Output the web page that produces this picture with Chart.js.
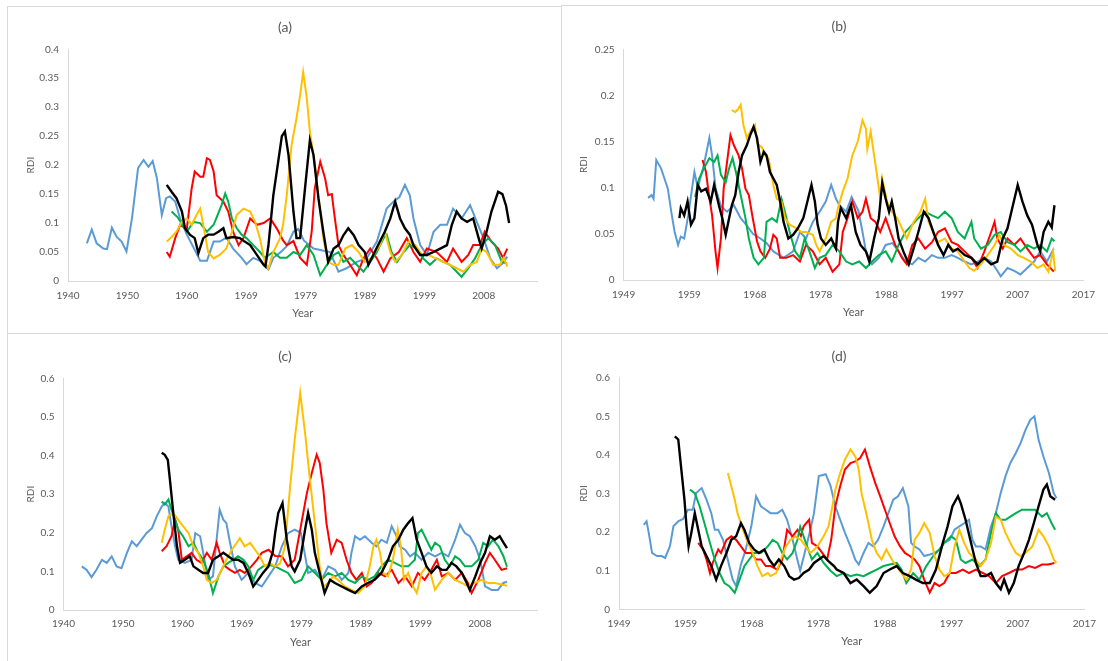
<!DOCTYPE html>
<html lang="pt-BR">
<head>
<meta charset="utf-8">
<title>RDI × Ano</title>
<script src="https://cdn.jsdelivr.net/npm/chart.js@4.4.1/dist/chart.umd.min.js"></script>
<style>
    body { margin: 0; width: 1108px; height: 661px; background: #fff; position: relative; overflow: hidden; }
    .painel { position: absolute; border-left: 1px solid #d9d9d9; border-top: 1px solid #d9d9d9; box-sizing: border-box; }
    canvas { position: absolute; }
</style>
</head>
<body>
<div class="painel" style="left:7px;top:6px;width:554px;height:327px"></div>
<div class="painel" style="left:561px;top:5px;width:547px;height:328px"></div>
<div class="painel" style="left:7px;top:333px;width:554px;height:328px"></div>
<div class="painel" style="left:561px;top:333px;width:547px;height:328px"></div>
<canvas id="graficoA" width="553" height="326" style="left:8px;top:7px"></canvas>
<canvas id="graficoB" width="542" height="327" style="left:562px;top:6px"></canvas>
<canvas id="graficoC" width="553" height="327" style="left:8px;top:334px"></canvas>
<canvas id="graficoD" width="542" height="327" style="left:562px;top:334px"></canvas>
<script>
// ============================================================
// 📈 RDI × ANO – QUATRO PAINÉIS (a)–(d)
// ============================================================

// rótulos do eixo X (eixo de datas, passo de ~9,7 anos)
const anosAC = ["1940", "1950", "1960", "1969", "1979", "1989", "1999", "2008"];
const anosBD = ["1949", "1959", "1968", "1978", "1988", "1997", "2007", "2017"];

// ---------- painel (a) ----------
const azulA = [[1943.6,0.065],[1944.4,0.089],[1945.2,0.065],[1946.3,0.056],[1946.9,0.055],[1947.7,0.092],[1948.5,0.076],[1949.3,0.068],[1950.1,0.051],[1951.0,0.108],[1952.0,0.195],[1952.9,0.209],[1953.7,0.197],[1954.4,0.207],[1955.1,0.177],[1955.6,0.137],[1955.9,0.114],[1956.6,0.143],[1957.2,0.146],[1958.1,0.137],[1958.9,0.108],[1960.0,0.08],[1961.0,0.06],[1962.2,0.035],[1963.3,0.035],[1964.4,0.068],[1965.4,0.068],[1966.5,0.075],[1967.6,0.056],[1969.0,0.04],[1969.8,0.029],[1970.9,0.04],[1972.0,0.035],[1973.4,0.02],[1974.2,0.04],[1975.3,0.049],[1976.4,0.06],[1977.5,0.085],[1978.3,0.09],[1979.2,0.07],[1980.8,0.056],[1982.1,0.053],[1983.5,0.05],[1984.9,0.016],[1986.2,0.022],[1987.9,0.033],[1989.5,0.039],[1991.2,0.068],[1992.8,0.125],[1993.9,0.137],[1994.9,0.145],[1995.8,0.166],[1996.6,0.148],[1997.2,0.108],[1998.3,0.062],[1999.4,0.045],[2000.5,0.085],[2001.6,0.097],[2002.7,0.097],[2003.7,0.125],[2005.1,0.108],[2006.5,0.131],[2007.6,0.102],[2008.7,0.074],[2009.8,0.039],[2010.9,0.022],[2011.8,0.03],[2012.6,0.042]];
const vermelhoA = [[1956.7,0.05],[1957.2,0.042],[1958.1,0.074],[1958.9,0.097],[1960.0,0.09],[1960.8,0.16],[1961.3,0.189],[1962.2,0.18],[1962.7,0.18],[1963.3,0.212],[1963.8,0.209],[1964.4,0.189],[1964.9,0.148],[1966.0,0.137],[1966.8,0.12],[1967.6,0.085],[1968.5,0.062],[1969.3,0.074],[1970.4,0.108],[1971.5,0.097],[1972.6,0.1],[1973.7,0.108],[1974.8,0.09],[1975.8,0.07],[1976.4,0.062],[1977.5,0.069],[1978.6,0.04],[1979.7,0.028],[1980.5,0.085],[1981.0,0.16],[1981.9,0.206],[1982.7,0.177],[1983.2,0.148],[1983.8,0.15],[1984.3,0.108],[1984.9,0.062],[1985.7,0.045],[1986.8,0.028],[1987.9,0.01],[1989.0,0.039],[1990.1,0.056],[1991.2,0.039],[1992.3,0.016],[1993.4,0.039],[1994.8,0.05],[1996.1,0.074],[1997.2,0.05],[1998.3,0.033],[1999.4,0.056],[2001.0,0.05],[2002.7,0.033],[2003.7,0.056],[2005.1,0.033],[2006.2,0.045],[2007.0,0.062],[2008.1,0.062],[2008.9,0.085],[2010.0,0.068],[2011.1,0.056],[2011.9,0.04],[2012.6,0.056]];
const verdeA = [[1957.5,0.12],[1958.5,0.11],[1960.0,0.085],[1961.1,0.102],[1962.2,0.1],[1963.3,0.085],[1964.4,0.097],[1964.9,0.11],[1965.7,0.131],[1966.3,0.151],[1966.8,0.137],[1967.4,0.108],[1968.2,0.091],[1969.0,0.08],[1969.8,0.074],[1970.9,0.062],[1972.0,0.05],[1972.8,0.04],[1974.2,0.05],[1975.3,0.04],[1976.4,0.04],[1977.5,0.05],[1978.6,0.045],[1979.7,0.062],[1980.8,0.045],[1981.9,0.01],[1983.0,0.028],[1984.1,0.045],[1984.9,0.05],[1985.7,0.033],[1986.8,0.04],[1987.9,0.028],[1989.0,0.016],[1990.1,0.033],[1991.2,0.05],[1992.3,0.074],[1992.8,0.08],[1993.6,0.05],[1994.5,0.033],[1995.6,0.05],[1996.6,0.062],[1997.7,0.056],[1998.8,0.039],[1999.9,0.028],[2001.0,0.039],[2002.1,0.033],[2003.2,0.028],[2004.3,0.016],[2005.1,0.007],[2006.2,0.022],[2007.3,0.039],[2008.4,0.062],[2009.5,0.074],[2010.6,0.062],[2011.7,0.033],[2012.6,0.03]];
const amareloA = [[1956.7,0.068],[1957.5,0.076],[1958.3,0.085],[1959.2,0.102],[1960.0,0.108],[1960.8,0.097],[1961.6,0.114],[1962.2,0.125],[1962.7,0.097],[1963.5,0.05],[1964.4,0.039],[1965.4,0.045],[1966.5,0.056],[1967.4,0.085],[1968.2,0.114],[1969.3,0.125],[1970.4,0.12],[1971.2,0.102],[1972.0,0.074],[1972.8,0.033],[1973.4,0.022],[1974.2,0.05],[1975.3,0.074],[1975.8,0.097],[1976.4,0.148],[1977.2,0.235],[1978.0,0.281],[1978.6,0.321],[1979.1,0.361],[1979.7,0.315],[1980.2,0.258],[1980.8,0.217],[1981.6,0.148],[1982.4,0.074],[1983.2,0.033],[1984.1,0.028],[1984.9,0.028],[1986.0,0.056],[1987.1,0.062],[1988.2,0.05],[1989.2,0.033],[1990.3,0.04],[1991.7,0.062],[1992.5,0.085],[1993.4,0.05],[1994.2,0.033],[1995.3,0.045],[1996.4,0.068],[1997.5,0.062],[1998.6,0.045],[1999.6,0.045],[2000.7,0.04],[2002.1,0.033],[2003.2,0.028],[2004.3,0.022],[2005.4,0.016],[2006.5,0.028],[2007.6,0.033],[2008.4,0.056],[2009.2,0.05],[2010.3,0.028],[2011.4,0.028],[2012.0,0.04],[2012.6,0.025]];
const pretoA = [[1956.7,0.166],[1957.5,0.154],[1958.3,0.143],[1959.2,0.12],[1959.7,0.091],[1960.5,0.08],[1961.3,0.074],[1961.9,0.048],[1962.7,0.074],[1963.5,0.08],[1964.4,0.08],[1965.2,0.085],[1966.0,0.091],[1966.5,0.074],[1967.6,0.076],[1968.7,0.074],[1969.5,0.068],[1970.4,0.062],[1971.5,0.045],[1972.6,0.028],[1972.9,0.025],[1973.4,0.062],[1974.2,0.148],[1975.0,0.206],[1975.6,0.25],[1976.1,0.258],[1976.7,0.217],[1977.5,0.12],[1978.0,0.074],[1978.6,0.074],[1979.4,0.16],[1980.2,0.243],[1980.8,0.217],[1981.6,0.143],[1982.4,0.085],[1983.2,0.033],[1984.1,0.056],[1984.9,0.062],[1985.7,0.079],[1986.5,0.091],[1987.4,0.079],[1988.2,0.062],[1989.2,0.05],[1989.8,0.028],[1990.6,0.045],[1991.4,0.062],[1992.5,0.085],[1993.4,0.108],[1994.2,0.137],[1995.0,0.108],[1995.8,0.091],[1996.6,0.08],[1997.2,0.062],[1998.3,0.045],[1999.4,0.045],[2000.5,0.05],[2001.6,0.056],[2002.7,0.062],[2003.5,0.097],[2004.3,0.12],[2005.1,0.108],[2006.0,0.102],[2007.0,0.108],[2007.9,0.074],[2008.4,0.056],[2009.2,0.085],[2010.0,0.12],[2011.1,0.154],[2011.8,0.15],[2012.4,0.13],[2012.9,0.1]];

// ---------- painel (b) ----------
const azulB = [[1953.1,0.089],[1953.6,0.092],[1953.9,0.088],[1954.3,0.13],[1955.0,0.121],[1955.5,0.11],[1956.0,0.099],[1956.5,0.074],[1957.0,0.052],[1957.5,0.038],[1957.9,0.047],[1958.4,0.045],[1959.0,0.07],[1959.9,0.117],[1960.4,0.1],[1961.3,0.125],[1962.1,0.154],[1962.5,0.135],[1963.0,0.1],[1963.8,0.08],[1964.7,0.074],[1965.7,0.081],[1966.7,0.067],[1967.5,0.06],[1968.5,0.05],[1969.6,0.045],[1970.5,0.04],[1971.5,0.031],[1973.0,0.024],[1974.4,0.031],[1975.4,0.052],[1976.3,0.045],[1977.3,0.063],[1978.3,0.074],[1979.2,0.085],[1980.0,0.103],[1980.7,0.088],[1981.2,0.081],[1982.2,0.074],[1983.0,0.09],[1984.0,0.075],[1984.6,0.052],[1985.1,0.031],[1986.0,0.017],[1987.0,0.024],[1988.0,0.038],[1989.0,0.04],[1989.9,0.031],[1990.9,0.02],[1991.9,0.017],[1992.8,0.024],[1993.8,0.02],[1994.8,0.027],[1995.7,0.024],[1996.7,0.024],[1997.7,0.027],[1998.6,0.024],[1999.6,0.02],[2000.6,0.017],[2001.5,0.02],[2002.5,0.024],[2003.5,0.02],[2004.4,0.01],[2004.9,0.004],[2005.9,0.013],[2006.9,0.01],[2007.8,0.006],[2008.8,0.013],[2009.8,0.02],[2010.7,0.031],[2011.7,0.02],[2012.7,0.034]];
const vermelhoB = [[1961.1,0.13],[1961.6,0.117],[1962.1,0.089],[1962.5,0.07],[1963.0,0.031],[1963.3,0.013],[1963.8,0.045],[1964.2,0.099],[1964.7,0.128],[1965.2,0.157],[1965.7,0.146],[1966.4,0.135],[1966.9,0.121],[1967.4,0.099],[1967.9,0.092],[1968.4,0.07],[1969.1,0.042],[1969.6,0.031],[1970.3,0.024],[1971.0,0.034],[1971.5,0.049],[1972.0,0.045],[1972.5,0.024],[1973.4,0.024],[1974.4,0.027],[1975.4,0.02],[1976.3,0.038],[1977.3,0.031],[1978.3,0.017],[1979.2,0.024],[1980.2,0.009],[1981.2,0.017],[1981.7,0.052],[1982.4,0.067],[1983.1,0.085],[1983.9,0.067],[1984.6,0.074],[1985.1,0.088],[1985.8,0.067],[1986.5,0.063],[1987.2,0.052],[1988.0,0.067],[1988.7,0.052],[1989.4,0.038],[1990.4,0.024],[1991.1,0.017],[1991.9,0.038],[1992.8,0.045],[1993.8,0.034],[1994.8,0.041],[1995.7,0.052],[1996.7,0.056],[1997.7,0.041],[1998.6,0.038],[1999.6,0.031],[2000.6,0.024],[2001.5,0.013],[2002.5,0.031],[2003.5,0.052],[2004.0,0.063],[2004.4,0.045],[2005.2,0.034],[2005.9,0.045],[2006.9,0.038],[2007.8,0.045],[2008.8,0.034],[2009.8,0.024],[2010.7,0.027],[2011.7,0.017],[2012.7,0.009]];
const verdeB = [[1960.0,0.09],[1960.6,0.11],[1961.3,0.121],[1962.1,0.132],[1962.8,0.128],[1963.3,0.135],[1963.8,0.114],[1964.5,0.106],[1965.0,0.121],[1965.5,0.132],[1966.0,0.117],[1966.4,0.103],[1966.9,0.085],[1967.4,0.067],[1967.9,0.045],[1968.6,0.024],[1969.3,0.017],[1970.1,0.024],[1970.5,0.063],[1971.3,0.067],[1972.0,0.063],[1972.7,0.088],[1973.2,0.074],[1973.9,0.052],[1974.7,0.031],[1975.4,0.024],[1976.1,0.045],[1976.8,0.031],[1977.6,0.013],[1978.3,0.024],[1979.2,0.027],[1980.2,0.038],[1981.2,0.031],[1982.2,0.02],[1983.1,0.017],[1984.1,0.02],[1985.1,0.013],[1986.0,0.02],[1987.0,0.027],[1988.0,0.031],[1988.9,0.02],[1989.9,0.038],[1990.9,0.052],[1991.9,0.06],[1992.8,0.067],[1993.8,0.074],[1994.8,0.07],[1995.7,0.067],[1996.7,0.074],[1997.7,0.067],[1998.6,0.052],[1999.6,0.045],[2000.6,0.063],[2001.0,0.045],[2002.0,0.034],[2003.0,0.038],[2004.0,0.049],[2004.9,0.052],[2005.9,0.041],[2006.9,0.038],[2007.8,0.031],[2008.8,0.038],[2009.8,0.034],[2010.7,0.038],[2011.7,0.031],[2012.4,0.045],[2012.8,0.042]];
const amareloB = [[1965.4,0.184],[1965.9,0.182],[1966.3,0.185],[1966.7,0.19],[1967.1,0.168],[1967.6,0.154],[1968.1,0.161],[1968.8,0.168],[1969.1,0.148],[1969.8,0.144],[1970.3,0.135],[1970.8,0.132],[1971.5,0.103],[1972.0,0.088],[1972.7,0.085],[1973.2,0.067],[1973.9,0.06],[1974.9,0.056],[1975.6,0.052],[1976.3,0.052],[1977.3,0.049],[1977.8,0.038],[1978.3,0.031],[1979.2,0.045],[1980.0,0.063],[1980.7,0.067],[1981.0,0.078],[1981.7,0.096],[1982.4,0.11],[1983.1,0.135],[1983.9,0.15],[1984.6,0.173],[1985.1,0.164],[1985.3,0.142],[1985.8,0.161],[1986.3,0.135],[1986.8,0.11],[1987.2,0.088],[1987.5,0.11],[1988.2,0.085],[1988.9,0.074],[1989.7,0.067],[1990.4,0.056],[1991.1,0.045],[1992.1,0.063],[1993.1,0.074],[1993.8,0.088],[1994.3,0.063],[1995.0,0.052],[1995.7,0.041],[1996.7,0.045],[1997.7,0.034],[1998.6,0.031],[1999.6,0.02],[2000.3,0.013],[2001.0,0.01],[2002.0,0.017],[2003.0,0.027],[2004.0,0.038],[2004.7,0.049],[2005.4,0.038],[2006.4,0.034],[2007.4,0.027],[2008.3,0.024],[2009.3,0.02],[2010.3,0.013],[2011.2,0.017],[2011.9,0.009],[2012.6,0.031],[2012.9,0.01]];
const pretoB = [[1957.7,0.067],[1957.9,0.078],[1958.4,0.07],[1958.9,0.085],[1959.4,0.06],[1959.9,0.067],[1960.4,0.103],[1960.9,0.096],[1961.6,0.099],[1962.3,0.085],[1962.8,0.103],[1963.5,0.081],[1964.0,0.067],[1964.5,0.049],[1965.0,0.067],[1965.4,0.081],[1965.9,0.092],[1966.4,0.117],[1966.9,0.135],[1967.6,0.146],[1968.1,0.157],[1968.6,0.166],[1969.1,0.154],[1969.6,0.128],[1970.1,0.139],[1970.5,0.135],[1971.0,0.117],[1971.5,0.11],[1972.0,0.103],[1972.5,0.085],[1973.0,0.063],[1973.7,0.045],[1974.4,0.049],[1975.1,0.056],[1975.9,0.067],[1976.6,0.088],[1977.1,0.103],[1977.6,0.085],[1978.0,0.06],[1978.5,0.045],[1979.2,0.038],[1980.0,0.045],[1980.7,0.034],[1981.0,0.063],[1981.4,0.078],[1982.2,0.067],[1982.9,0.081],[1983.6,0.052],[1984.3,0.038],[1985.1,0.031],[1985.6,0.02],[1986.3,0.045],[1987.0,0.067],[1987.5,0.105],[1988.0,0.088],[1988.5,0.074],[1988.9,0.085],[1989.4,0.067],[1989.9,0.045],[1990.6,0.031],[1991.4,0.017],[1992.1,0.034],[1992.8,0.052],[1993.6,0.074],[1994.3,0.067],[1995.0,0.052],[1995.7,0.038],[1996.5,0.027],[1997.2,0.038],[1997.9,0.031],[1998.6,0.034],[1999.6,0.027],[2000.6,0.024],[2001.5,0.017],[2002.5,0.024],[2003.5,0.017],[2004.4,0.02],[2005.2,0.045],[2005.9,0.056],[2006.6,0.078],[2007.4,0.103],[2008.1,0.085],[2008.8,0.07],[2009.5,0.06],[2010.3,0.038],[2010.7,0.031],[2011.2,0.052],[2011.9,0.063],[2012.4,0.057],[2012.8,0.081]];

// ---------- painel (c) ----------
const azulC = [[1943.5,0.113],[1944.3,0.104],[1945.1,0.085],[1945.9,0.104],[1946.8,0.13],[1947.6,0.122],[1948.4,0.139],[1949.2,0.113],[1950.0,0.108],[1950.9,0.148],[1951.7,0.178],[1952.5,0.165],[1953.3,0.182],[1954.1,0.199],[1955.0,0.212],[1955.8,0.243],[1956.6,0.268],[1957.1,0.277],[1957.7,0.268],[1958.2,0.217],[1958.8,0.165],[1959.3,0.13],[1960.4,0.122],[1961.5,0.13],[1962.1,0.199],[1962.9,0.191],[1963.4,0.148],[1964.2,0.078],[1965.0,0.087],[1965.6,0.182],[1966.1,0.26],[1966.7,0.234],[1967.2,0.225],[1967.8,0.174],[1968.6,0.113],[1969.7,0.078],[1970.8,0.096],[1971.9,0.07],[1973.0,0.061],[1974.1,0.087],[1975.2,0.113],[1976.3,0.165],[1977.3,0.199],[1978.4,0.208],[1979.4,0.2],[1980.0,0.15],[1980.6,0.096],[1981.7,0.104],[1982.8,0.078],[1983.9,0.113],[1985.0,0.104],[1986.1,0.078],[1987.2,0.096],[1987.7,0.148],[1988.3,0.191],[1989.1,0.182],[1989.9,0.191],[1991.0,0.174],[1991.8,0.165],[1992.6,0.182],[1993.5,0.174],[1994.3,0.217],[1995.1,0.191],[1995.6,0.165],[1996.5,0.156],[1997.3,0.139],[1998.1,0.148],[1999.2,0.13],[2000.3,0.148],[2001.4,0.139],[2002.5,0.148],[2003.6,0.139],[2004.7,0.182],[2005.5,0.221],[2006.3,0.199],[2007.1,0.191],[2008.0,0.165],[2008.8,0.13],[2009.6,0.061],[2010.7,0.052],[2011.7,0.052],[2012.6,0.07],[2013.2,0.073]];
const vermelhoC = [[1956.6,0.152],[1957.4,0.165],[1958.2,0.191],[1958.8,0.234],[1959.3,0.208],[1959.9,0.13],[1960.7,0.139],[1961.5,0.148],[1962.3,0.13],[1963.1,0.122],[1964.0,0.148],[1964.8,0.13],[1965.6,0.174],[1966.1,0.148],[1967.0,0.113],[1967.8,0.104],[1968.6,0.096],[1969.4,0.104],[1970.2,0.096],[1971.3,0.113],[1972.2,0.13],[1973.0,0.148],[1974.1,0.156],[1975.2,0.14],[1976.3,0.139],[1977.3,0.113],[1978.4,0.13],[1979.5,0.225],[1980.4,0.303],[1981.2,0.355],[1982.0,0.402],[1982.5,0.381],[1983.1,0.311],[1983.6,0.225],[1984.4,0.148],[1985.3,0.182],[1986.1,0.174],[1986.9,0.13],[1987.7,0.096],[1988.5,0.078],[1989.4,0.096],[1990.2,0.061],[1991.0,0.07],[1992.1,0.096],[1993.2,0.087],[1994.3,0.104],[1995.4,0.07],[1996.5,0.087],[1997.6,0.061],[1998.6,0.096],[1999.7,0.078],[2000.8,0.104],[2001.7,0.13],[2002.5,0.087],[2003.6,0.096],[2004.7,0.078],[2005.8,0.096],[2006.8,0.07],[2007.4,0.044],[2008.5,0.078],[2009.6,0.122],[2010.4,0.148],[2011.2,0.13],[2012.3,0.104],[2013.2,0.108]];
const verdeC = [[1956.6,0.281],[1957.1,0.273],[1957.7,0.286],[1958.2,0.26],[1958.8,0.234],[1959.3,0.208],[1960.1,0.191],[1961.0,0.165],[1961.8,0.174],[1962.6,0.148],[1963.4,0.13],[1964.2,0.096],[1965.0,0.044],[1965.9,0.087],[1966.7,0.113],[1967.5,0.122],[1968.3,0.13],[1969.1,0.139],[1970.0,0.13],[1970.8,0.113],[1971.6,0.078],[1972.4,0.104],[1973.2,0.113],[1974.1,0.117],[1975.2,0.113],[1976.3,0.104],[1977.3,0.096],[1978.4,0.07],[1979.5,0.078],[1980.6,0.113],[1981.7,0.096],[1982.8,0.078],[1983.9,0.096],[1985.0,0.087],[1986.1,0.096],[1987.2,0.078],[1988.3,0.07],[1989.4,0.087],[1990.4,0.078],[1991.5,0.087],[1992.6,0.113],[1993.7,0.13],[1994.8,0.122],[1995.9,0.113],[1997.0,0.113],[1998.1,0.13],[1998.6,0.199],[1999.2,0.208],[2000.0,0.182],[2000.8,0.156],[2001.4,0.174],[2002.2,0.165],[2003.0,0.13],[2003.8,0.113],[2004.7,0.139],[2005.5,0.13],[2006.3,0.113],[2007.4,0.113],[2008.5,0.13],[2009.3,0.174],[2010.1,0.165],[2010.9,0.182],[2011.8,0.165],[2012.6,0.14],[2013.2,0.112]];
const amareloC = [[1956.6,0.174],[1957.1,0.208],[1957.7,0.243],[1958.5,0.251],[1959.3,0.234],[1960.1,0.217],[1961.0,0.199],[1961.8,0.165],[1962.6,0.148],[1963.4,0.113],[1964.0,0.078],[1964.8,0.07],[1965.6,0.078],[1966.4,0.104],[1967.2,0.13],[1968.1,0.156],[1968.9,0.174],[1969.4,0.186],[1970.2,0.165],[1971.1,0.174],[1971.9,0.156],[1972.7,0.139],[1973.5,0.113],[1974.3,0.122],[1975.2,0.113],[1976.0,0.12],[1976.8,0.165],[1977.6,0.311],[1978.4,0.441],[1979.3,0.562],[1980.1,0.458],[1980.9,0.337],[1981.7,0.225],[1982.5,0.113],[1983.1,0.061],[1983.9,0.07],[1984.7,0.087],[1985.5,0.078],[1986.6,0.061],[1987.7,0.052],[1988.8,0.044],[1989.9,0.061],[1990.7,0.113],[1991.3,0.165],[1991.8,0.182],[1992.4,0.148],[1992.9,0.096],[1993.7,0.087],[1994.5,0.13],[1995.3,0.208],[1995.8,0.165],[1996.3,0.078],[1997.0,0.096],[1997.8,0.061],[1998.4,0.044],[1999.2,0.096],[2000.0,0.113],[2000.8,0.087],[2001.4,0.052],[2002.5,0.078],[2003.6,0.096],[2004.7,0.078],[2005.8,0.07],[2006.8,0.061],[2007.9,0.07],[2009.0,0.078],[2010.1,0.07],[2011.2,0.07],[2012.6,0.065],[2013.2,0.063]];
const pretoC = [[1956.6,0.407],[1957.1,0.402],[1957.6,0.389],[1958.0,0.329],[1958.5,0.251],[1959.1,0.165],[1959.6,0.122],[1960.4,0.13],[1961.2,0.139],[1961.8,0.113],[1962.6,0.104],[1963.4,0.096],[1964.2,0.096],[1965.0,0.13],[1965.9,0.139],[1966.7,0.148],[1967.5,0.139],[1968.3,0.13],[1969.1,0.13],[1970.0,0.122],[1970.8,0.096],[1971.6,0.061],[1972.4,0.078],[1973.2,0.096],[1974.1,0.113],[1974.8,0.15],[1975.2,0.2],[1975.7,0.251],[1976.4,0.277],[1977.1,0.182],[1977.9,0.113],[1978.4,0.1],[1979.3,0.13],[1980.1,0.208],[1980.6,0.251],[1981.2,0.208],[1981.7,0.148],[1982.5,0.096],[1983.3,0.044],[1984.2,0.078],[1985.0,0.07],[1986.1,0.061],[1987.2,0.052],[1988.3,0.044],[1989.4,0.061],[1990.4,0.07],[1991.5,0.078],[1992.6,0.096],[1993.7,0.13],[1994.5,0.165],[1995.4,0.182],[1996.2,0.208],[1997.0,0.225],[1997.7,0.238],[1998.4,0.182],[1999.2,0.148],[2000.0,0.113],[2000.8,0.096],[2001.7,0.113],[2002.5,0.104],[2003.3,0.104],[2004.1,0.122],[2004.9,0.113],[2005.8,0.096],[2006.6,0.07],[2007.1,0.052],[2008.0,0.087],[2008.8,0.122],[2009.6,0.148],[2010.4,0.191],[2011.2,0.182],[2012.0,0.191],[2012.6,0.175],[2013.2,0.16]];

// ---------- painel (d) ----------
const azulD = [[1953.1,0.219],[1953.5,0.228],[1953.8,0.2],[1954.3,0.146],[1955.0,0.138],[1955.7,0.138],[1956.2,0.133],[1956.9,0.164],[1957.4,0.215],[1958.1,0.228],[1958.8,0.234],[1959.5,0.258],[1960.2,0.258],[1960.7,0.301],[1961.5,0.314],[1962.2,0.284],[1962.9,0.249],[1963.4,0.206],[1963.9,0.206],[1964.6,0.18],[1965.3,0.128],[1966.0,0.077],[1966.5,0.06],[1967.2,0.116],[1967.9,0.155],[1968.7,0.215],[1969.4,0.293],[1970.1,0.267],[1970.8,0.258],[1971.5,0.249],[1972.5,0.249],[1973.2,0.258],[1973.9,0.232],[1974.7,0.18],[1975.4,0.128],[1975.8,0.1],[1976.5,0.15],[1977.2,0.2],[1977.8,0.249],[1978.5,0.345],[1979.5,0.35],[1980.2,0.32],[1980.9,0.267],[1981.6,0.232],[1982.3,0.198],[1983.1,0.163],[1983.8,0.128],[1984.3,0.116],[1985.0,0.146],[1985.7,0.172],[1986.4,0.163],[1987.1,0.18],[1987.9,0.215],[1988.6,0.249],[1989.3,0.284],[1990.0,0.293],[1990.7,0.314],[1991.5,0.267],[1991.9,0.172],[1992.4,0.163],[1993.1,0.155],[1993.8,0.138],[1994.6,0.142],[1995.3,0.146],[1996.0,0.155],[1996.7,0.172],[1997.5,0.18],[1998.2,0.206],[1998.9,0.215],[1999.6,0.223],[2000.3,0.232],[2000.8,0.18],[2001.3,0.163],[2002.0,0.163],[2002.7,0.155],[2003.5,0.215],[2004.2,0.249],[2004.9,0.301],[2005.6,0.345],[2006.3,0.379],[2007.1,0.405],[2007.8,0.431],[2008.5,0.465],[2009.2,0.491],[2009.8,0.5],[2010.4,0.439],[2011.1,0.396],[2011.9,0.353],[2012.6,0.301],[2013.0,0.288]];
const vermelhoD = [[1961.0,0.172],[1961.7,0.155],[1962.2,0.129],[1962.7,0.094],[1963.1,0.12],[1963.9,0.155],[1964.3,0.146],[1965.1,0.18],[1965.8,0.189],[1966.5,0.18],[1967.2,0.163],[1967.9,0.146],[1968.7,0.146],[1969.4,0.129],[1970.1,0.129],[1970.8,0.112],[1971.5,0.112],[1972.5,0.103],[1973.2,0.129],[1973.9,0.206],[1974.7,0.189],[1975.4,0.206],[1975.9,0.19],[1976.3,0.215],[1977.1,0.232],[1977.5,0.172],[1978.3,0.163],[1979.0,0.146],[1979.7,0.129],[1980.3,0.18],[1980.9,0.267],[1981.6,0.319],[1982.3,0.362],[1983.1,0.379],[1983.8,0.383],[1984.5,0.392],[1985.2,0.414],[1985.9,0.371],[1986.7,0.327],[1987.4,0.293],[1988.1,0.258],[1988.8,0.223],[1989.5,0.189],[1990.3,0.163],[1991.0,0.146],[1991.7,0.138],[1992.4,0.129],[1993.1,0.112],[1993.8,0.077],[1994.6,0.043],[1995.3,0.068],[1996.0,0.06],[1996.7,0.068],[1997.5,0.094],[1998.4,0.094],[1999.4,0.103],[2000.3,0.094],[2001.3,0.103],[2002.3,0.094],[2003.2,0.086],[2004.2,0.068],[2005.1,0.086],[2006.1,0.094],[2007.1,0.103],[2008.0,0.103],[2009.0,0.112],[2009.9,0.107],[2010.9,0.116],[2011.8,0.116],[2012.7,0.12]];
const verdeD = [[1959.8,0.31],[1960.5,0.301],[1961.2,0.267],[1961.9,0.223],[1962.7,0.172],[1963.4,0.129],[1964.1,0.094],[1964.8,0.068],[1965.5,0.06],[1966.3,0.043],[1967.0,0.077],[1967.7,0.112],[1968.4,0.129],[1969.1,0.146],[1970.1,0.146],[1971.1,0.163],[1971.8,0.18],[1972.5,0.172],[1973.2,0.146],[1973.9,0.129],[1974.7,0.146],[1975.4,0.18],[1975.8,0.214],[1976.8,0.163],[1977.5,0.129],[1978.3,0.146],[1979.2,0.12],[1980.2,0.1],[1981.1,0.086],[1982.1,0.094],[1983.1,0.086],[1984.0,0.09],[1985.0,0.086],[1985.9,0.094],[1986.9,0.103],[1987.9,0.112],[1988.8,0.116],[1989.8,0.12],[1990.5,0.103],[1991.2,0.068],[1992.2,0.094],[1993.1,0.077],[1994.1,0.112],[1995.1,0.138],[1996.0,0.155],[1996.7,0.172],[1997.7,0.189],[1998.4,0.18],[1999.1,0.129],[1999.8,0.12],[2000.8,0.129],[2001.8,0.112],[2002.7,0.129],[2003.5,0.198],[2004.2,0.249],[2004.9,0.232],[2005.6,0.232],[2006.3,0.24],[2007.1,0.249],[2008.0,0.258],[2009.0,0.258],[2009.9,0.258],[2010.9,0.24],[2011.6,0.249],[2012.3,0.223],[2012.8,0.206]];
const amareloD = [[1965.3,0.353],[1965.8,0.319],[1966.3,0.284],[1966.7,0.249],[1967.5,0.206],[1968.2,0.172],[1968.9,0.146],[1969.6,0.112],[1970.3,0.086],[1971.1,0.094],[1971.5,0.086],[1972.3,0.094],[1973.0,0.129],[1973.7,0.163],[1974.4,0.18],[1975.1,0.189],[1975.9,0.18],[1976.6,0.163],[1977.3,0.146],[1978.3,0.163],[1979.2,0.189],[1979.9,0.215],[1980.3,0.25],[1980.9,0.31],[1981.6,0.353],[1982.3,0.388],[1983.1,0.414],[1983.8,0.396],[1984.3,0.362],[1984.7,0.301],[1985.5,0.24],[1986.2,0.18],[1986.9,0.146],[1987.6,0.129],[1988.3,0.155],[1989.1,0.129],[1989.8,0.112],[1990.5,0.094],[1991.2,0.077],[1991.9,0.103],[1992.4,0.18],[1993.1,0.198],[1993.8,0.223],[1994.6,0.198],[1995.3,0.138],[1996.0,0.103],[1996.7,0.086],[1997.5,0.094],[1998.2,0.163],[1998.9,0.206],[1999.6,0.172],[2000.3,0.146],[2001.3,0.129],[2002.0,0.112],[2002.7,0.129],[2003.5,0.172],[2004.2,0.24],[2004.9,0.232],[2005.6,0.198],[2006.3,0.172],[2007.1,0.146],[2007.8,0.138],[2008.5,0.146],[2009.5,0.163],[2010.4,0.206],[2011.1,0.189],[2011.9,0.163],[2012.6,0.129],[2013.0,0.12]];
const pretoD = [[1957.6,0.448],[1958.1,0.44],[1958.5,0.37],[1959.0,0.284],[1959.3,0.215],[1959.6,0.163],[1960.0,0.198],[1960.5,0.249],[1961.0,0.206],[1961.5,0.163],[1962.2,0.138],[1962.9,0.112],[1963.6,0.077],[1964.3,0.112],[1965.1,0.146],[1965.8,0.18],[1966.5,0.189],[1967.2,0.223],[1967.7,0.206],[1968.4,0.172],[1969.1,0.155],[1969.8,0.146],[1970.6,0.155],[1971.3,0.129],[1972.0,0.112],[1972.7,0.129],[1973.5,0.112],[1974.2,0.086],[1974.9,0.077],[1975.6,0.081],[1976.3,0.094],[1977.1,0.103],[1977.8,0.12],[1978.5,0.129],[1979.2,0.138],[1979.9,0.125],[1980.7,0.112],[1981.1,0.103],[1982.1,0.094],[1983.1,0.068],[1984.0,0.077],[1985.0,0.06],[1985.9,0.043],[1986.9,0.06],[1987.9,0.094],[1988.8,0.103],[1989.8,0.112],[1990.7,0.094],[1991.7,0.086],[1992.6,0.077],[1993.6,0.068],[1994.6,0.068],[1995.5,0.103],[1996.5,0.172],[1997.2,0.215],[1997.9,0.267],[1998.7,0.293],[1999.1,0.275],[1999.8,0.232],[2000.6,0.172],[2001.3,0.12],[2002.0,0.086],[2002.7,0.086],[2003.5,0.094],[2004.2,0.068],[2004.9,0.052],[2005.4,0.077],[2006.1,0.043],[2006.8,0.068],[2007.5,0.112],[2008.3,0.146],[2009.0,0.18],[2009.7,0.223],[2010.4,0.267],[2011.1,0.31],[2011.6,0.323],[2012.1,0.293],[2012.8,0.284]];

// ---------- estilo comum ----------
const CORES = ["#5b9bd5", "#ff0000", "#00b050", "#ffc000", "#000000"];
const FONTE = "Lato, 'Liberation Sans', sans-serif";
const CINZA = "#595959";

// geometria de cada painel (padding, larguras dos eixos, espaçamento dos títulos)
const paineis = [
    { id: "graficoA", titulo: "(a)", series: [azulA, vermelhoA, verdeA, amareloA, pretoA], anos: anosAC,
      x0: 1940.5, passo: 9.75, xMax: 2017.56, yMax: 0.4, yPasso: 0.05,
      pl: 24.5, pr: 23.5, yLarg: 35.5, xAlt: 52, tt: 11.6, tb: 13.9, rdiPad: -8.1, yearPad: 13.4, xPad: 9 },
    { id: "graficoB", titulo: "(b)", series: [azulB, vermelhoB, verdeB, amareloB, pretoB], anos: anosBD,
      x0: 1949.5, passo: 9.65, xMax: 2017.05, yMax: 0.25, yPasso: 0.05,
      pl: 27.2, pr: 15.2, yLarg: 34.4, xAlt: 53, tt: 12.3, tb: 14.2, rdiPad: -11.8, yearPad: 14.1, xPad: 9 },
    { id: "graficoC", titulo: "(c)", series: [azulC, vermelhoC, verdeC, amareloC, pretoC], anos: anosAC,
      x0: 1940.5, passo: 9.75, xMax: 2018.2, yMax: 0.6, yPasso: 0.1,
      pl: 24.5, pr: 23.5, yLarg: 31, xAlt: 51, tt: 13.6, tb: 13.9, rdiPad: -8.1, yearPad: 12.4, xPad: 8 },
    { id: "graficoD", titulo: "(d)", series: [azulD, vermelhoD, verdeD, amareloD, pretoD], anos: anosBD,
      x0: 1949.5, passo: 9.65, xMax: 2017.05, yMax: 0.6, yPasso: 0.1,
      pl: 28, pr: 16, yLarg: 29, xAlt: 51.7, tt: 13.6, tb: 13.3, rdiPad: -12.6, yearPad: 13.4, xPad: 8 }
];

function criaGrafico(p) {
    const ctx = document.getElementById(p.id).getContext("2d");

    new Chart(ctx, {
        type: "line",
        data: {
            datasets: p.series.map((s, i) => ({
                data: s.map(([x, y]) => ({ x, y })),
                borderColor: CORES[i],
                borderWidth: i === 4 ? 2.4 : 2,
                pointRadius: 0,
                tension: 0,
                order: 5 - i // preto por cima
            }))
        },
        options: {
            responsive: false,
            animation: false,
            events: [],
            layout: { padding: { left: p.pl, right: p.pr, top: 0, bottom: 0 } },
            plugins: {
                legend: { display: false },
                tooltip: { enabled: false },
                title: {
                    display: true, text: p.titulo, color: CINZA,
                    font: { family: FONTE, size: 14, weight: "normal" },
                    padding: { top: p.tt, bottom: p.tb }
                }
            },
            scales: {
                x: {
                    type: "linear",
                    min: p.x0,
                    max: p.xMax,
                    grid: { display: false, drawTicks: false },
                    border: { display: true, color: "#d9d9d9", width: 1 },
                    afterBuildTicks: s => { s.ticks = p.anos.map((_, k) => ({ value: p.x0 + k * p.passo })); },
                    afterFit: s => { s.height = p.xAlt; },
                    ticks: {
                        autoSkip: false, maxRotation: 0, padding: p.xPad, color: CINZA,
                        font: { family: FONTE, size: 10 },
                        callback: (v, i) => p.anos[i]
                    },
                    title: {
                        display: true, text: "Year", color: CINZA,
                        font: { family: FONTE, size: 11 },
                        padding: { top: 0, bottom: p.yearPad }
                    }
                },
                y: {
                    min: 0,
                    max: p.yMax,
                    grid: { display: false, drawTicks: false },
                    border: { display: true, color: "#d9d9d9", width: 1 },
                    afterFit: s => { s.width = p.yLarg; },
                    ticks: {
                        stepSize: p.yPasso, padding: 9, color: CINZA,
                        font: { family: FONTE, size: 10 },
                        callback: v => String(+v.toFixed(2))
                    },
                    title: {
                        display: true, text: "RDI", color: CINZA,
                        font: { family: FONTE, size: 10 },
                        padding: { top: p.rdiPad, bottom: 0 }
                    }
                }
            }
        }
    });
}

document.addEventListener("DOMContentLoaded", () => {
    paineis.forEach(criaGrafico);
});
</script>
</body>
</html>
